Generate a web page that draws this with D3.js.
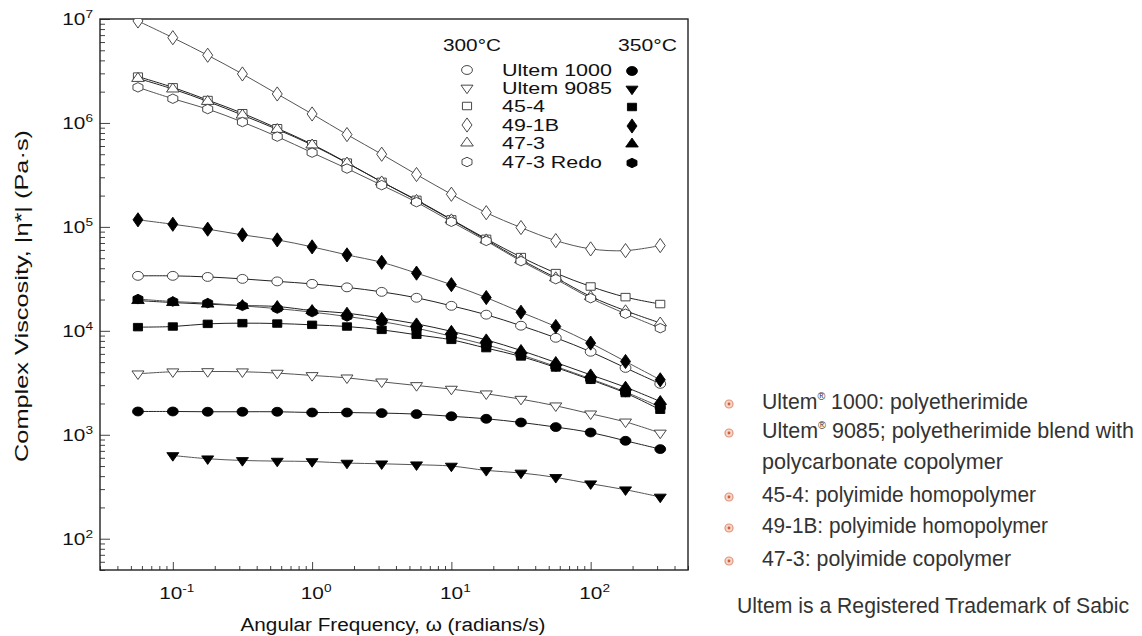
<!DOCTYPE html>
<html>
<head>
<meta charset="utf-8">
<script src="https://cdn.jsdelivr.net/npm/d3@7"></script>
<style>
  body { margin: 0; background: #fff; }
  svg { display: block; font-family: "Liberation Sans", Arial, sans-serif; }
</style>
</head>
<body>
<div id="chart"></div>
<script>
// angular frequency (rad/s), 4 points per decade
const freq = [0.0562, 0.1, 0.178, 0.316, 0.562, 1, 1.78, 3.16, 5.62, 10, 17.8, 31.6, 56.2, 100, 178, 316];

// complex viscosity (Pa·s) at 300 °C
const ultem1000_300 = [33800, 33800, 33000, 31600, 29900, 28300, 26200, 23700, 20800, 17400, 14300, 11200, 8570, 6290, 4400, 3090];
const ultem9085_300 = [3860, 4040, 4060, 4040, 3920, 3720, 3530, 3230, 2980, 2750, 2480, 2200, 1900, 1590, 1330, 1040];
const pi454_300     = [2.79e6, 2.20e6, 1.66e6, 1.24e6, 8.89e5, 6.24e5, 4.15e5, 2.71e5, 1.82e5, 1.18e5, 7.67e4, 5.12e4, 3.59e4, 2.67e4, 2.11e4, 1.81e4];
const pi491b_300    = [9.57e6, 6.61e6, 4.48e6, 2.96e6, 1.90e6, 1.22e6, 7.73e5, 5.00e5, 3.19e5, 2.06e5, 1.37e5, 9.85e4, 7.38e4, 6.14e4, 5.91e4, 6.61e4];
const pi473_300     = [2.68e6, 2.12e6, 1.61e6, 1.19e6, 8.66e5, 6.14e5, 4.12e5, 2.71e5, 1.80e5, 1.17e5, 7.50e4, 4.82e4, 3.24e4, 2.14e4, 1.56e4, 1.19e4];
const pi473redo_300 = [2.20e6, 1.71e6, 1.36e6, 1.02e6, 7.39e5, 5.18e5, 3.64e5, 2.52e5, 1.73e5, 1.12e5, 7.33e4, 4.68e4, 3.14e4, 2.06e4, 1.46e4, 1.06e4];

// complex viscosity (Pa·s) at 350 °C
const ultem1000_350 = [1675, 1675, 1665, 1665, 1665, 1637, 1637, 1617, 1581, 1506, 1425, 1313, 1186, 1052, 875, 728];
const ultem9085_350 = [null, 632, 588, 566, 558, 553, 534, 526, 515, 500, 454, 429, 389, 338, 296, 252];
const pi454_350     = [10850, 11000, 11670, 11850, 11750, 11420, 11000, 10220, 9160, 8190, 6820, 5670, 4440, 3380, 2520, 1740];
const pi491b_350    = [1.17e5, 1.06e5, 9.51e4, 8.38e4, 7.50e4, 6.42e4, 5.38e4, 4.56e4, 3.59e4, 2.78e4, 2.09e4, 1.51e4, 1.10e4, 7620, 5070, 3380];
const pi473_350     = [19550, 18700, 18060, 17500, 17130, 15670, 14790, 13250, 11670, 9890, 8190, 6470, 4960, 3770, 2870, 2090];
const pi473redo_350 = [20200, 19140, 18470, 17380, 16360, 15130, 13740, 12290, 10610, 8860, 7330, 5870, 4540, 3450, 2580, 1850];

const materials = ['Ultem 1000', 'Ultem 9085', '45-4', '49-1B', '47-3', '47-3 Redo'];
const tempHeaders = ['300°C', '350°C'];
const xMajor = [0.1, 1, 10, 100];
const yMajor = [100, 1e3, 1e4, 1e5, 1e6, 1e7];

const notes = [
  ['Ultem', '®', ' 1000: polyetherimide'],
  ['Ultem', '®', ' 9085; polyetherimide blend with'],
  ['polycarbonate copolymer'],
  ['45-4: polyimide homopolymer'],
  ['49-1B: polyimide homopolymer'],
  ['47-3: polyimide copolymer']
];
const footnote = 'Ultem is a Registered Trademark of Sabic';

const W = 1142, H = 636;
const L = 100, R = 688, T = 19, B = 570;

const svg = d3.select('#chart').append('svg')
  .attr('width', W).attr('height', H);

const x = d3.scaleLog().domain([0.03, 500]).range([L, R]);
const y = d3.scaleLog().domain([50, 1e7]).range([B, T]);

// hexagon symbol, pointy top
const symbolHexagon = {
  draw(ctx, size) {
    const r = Math.sqrt(2 * size / (3 * Math.sqrt(3)));
    for (let i = 0; i < 6; i++) {
      const a = -Math.PI / 2 + i * Math.PI / 3;
      i ? ctx.lineTo(r * Math.cos(a), r * Math.sin(a)) : ctx.moveTo(r * Math.cos(a), r * Math.sin(a));
    }
    ctx.closePath();
  }
};
const symbols = {
  circle:  { type: d3.symbolCircle,   size: 62, rot: 0 },
  tdown:   { type: d3.symbolTriangle, size: 42, rot: 180 },
  square:  { type: d3.symbolSquare,   size: 56, rot: 0 },
  diamond: { type: d3.symbolDiamond,  size: 58, rot: 0 },
  tup:     { type: d3.symbolTriangle, size: 46, rot: 0 },
  hex:     { type: symbolHexagon,     size: 58, rot: 0 }
};
const symbolKeys = ['circle', 'tdown', 'square', 'diamond', 'tup', 'hex'];

const series = [
  { values: ultem1000_300, sym: 'circle',  filled: false },
  { values: ultem9085_300, sym: 'tdown',   filled: false },
  { values: pi454_300,     sym: 'square',  filled: false },
  { values: pi491b_300,    sym: 'diamond', filled: false },
  { values: pi473_300,     sym: 'tup',     filled: false },
  { values: pi473redo_300, sym: 'hex',     filled: false },
  { values: ultem1000_350, sym: 'circle',  filled: true },
  { values: ultem9085_350, sym: 'tdown',   filled: true },
  { values: pi454_350,     sym: 'square',  filled: true },
  { values: pi491b_350,    sym: 'diamond', filled: true },
  { values: pi473_350,     sym: 'tup',     filled: true },
  { values: pi473redo_350, sym: 'hex',     filled: true }
];

function drawMarker(g, cx, cy, key, filled) {
  const s = symbols[key];
  g.append('path')
    .attr('d', d3.symbol().type(s.type).size(s.size)())
    .attr('transform', `translate(${cx},${cy}) scale(1.22,1) rotate(${s.rot})`)
    .attr('fill', filled ? '#000' : '#fff')
    .attr('stroke', filled ? '#000' : '#333')
    .attr('stroke-width', 0.9)
    .attr('vector-effect', 'non-scaling-stroke');
}

// ---- axes ticks (inside) ----
const axes = svg.append('g');
const xMinor = [];
for (let d = 0.01; d <= 100; d *= 10)
  for (let k = 2; k <= 9; k++) { const v = k * d; if (v >= 0.03 && v <= 500) xMinor.push(v); }
const yMinor = [];
for (let d = 10; d <= 1e6; d *= 10)
  for (let k = 2; k <= 9; k++) { const v = k * d; if (v >= 50 && v <= 1e7) yMinor.push(v); }

axes.append('g').attr('transform', `translate(0,${B})`)
  .call(d3.axisBottom(x).tickValues(xMinor).tickSize(-4).tickFormat(''));
axes.append('g').attr('transform', `translate(0,${B})`)
  .call(d3.axisBottom(x).tickValues(xMajor).tickSize(-8).tickFormat(''));
axes.append('g').attr('transform', `translate(${L},0)`)
  .call(d3.axisLeft(y).tickValues(yMinor).tickSize(-5).tickFormat(''));
axes.append('g').attr('transform', `translate(${L},0)`)
  .call(d3.axisLeft(y).tickValues(yMajor).tickSize(-10).tickFormat(''));
axes.selectAll('.domain').remove();
axes.selectAll('.tick line').attr('stroke', '#444').attr('stroke-width', 1);

// frame
svg.append('rect')
  .attr('x', L).attr('y', T).attr('width', R - L).attr('height', B - T)
  .attr('fill', 'none').attr('stroke', '#222').attr('stroke-width', 1.4);

// power-of-ten tick labels
function powLabel(px, py, exp, anchor) {
  const t = svg.append('text')
    .attr('transform', `translate(${px},${py}) scale(1.3,1)`)
    .attr('text-anchor', anchor).attr('font-size', 16).attr('fill', '#111');
  t.append('tspan').text('10');
  t.append('tspan').attr('dy', -7).attr('font-size', 10.5).text(exp);
}
yMajor.forEach(v => powLabel(93, y(v) + 6, Math.round(Math.log10(v)), 'end'));
xMajor.forEach(v => powLabel(x(v) + 4, 599, Math.round(Math.log10(v)), 'middle'));

// axis titles
svg.append('text')
  .attr('x', 393).attr('y', 631).attr('text-anchor', 'middle')
  .attr('font-size', 18).attr('fill', '#111')
  .attr('textLength', 305).attr('lengthAdjust', 'spacingAndGlyphs')
  .text('Angular Frequency, ω (radians/s)');
svg.append('text')
  .attr('transform', 'translate(28,296) rotate(-90)').attr('text-anchor', 'middle')
  .attr('font-size', 18).attr('fill', '#111')
  .attr('textLength', 332).attr('lengthAdjust', 'spacingAndGlyphs')
  .text('Complex Viscosity, |η*| (Pa·s)');

// ---- data ----
svg.append('clipPath').attr('id', 'plot-clip')
  .append('rect').attr('x', L).attr('y', T).attr('width', R - L).attr('height', B - T);

const plot = svg.append('g').attr('clip-path', 'url(#plot-clip)');
const line = d3.line()
  .defined(d => d.v != null)
  .x(d => x(d.f)).y(d => y(d.v))
  .curve(d3.curveCatmullRom.alpha(0.5));

series.forEach((s, i) => {
  const pts = freq.map((f, j) => ({ f, v: s.values[j] }));
  plot.append('path')
    .datum(pts)
    .attr('d', line)
    .attr('fill', 'none')
    .attr('stroke', i % 2 ? '#555' : '#222')
    .attr('stroke-width', 1);
});
series.forEach(s => {
  freq.forEach((f, j) => {
    const v = s.values[j];
    if (v == null) return;
    drawMarker(plot, x(f), y(v), s.sym, s.filled);
  });
});

// ---- legend ----
const legendRows = [70, 88, 106, 125, 143, 162];
const legendWidths = [110, 110, 43, 57, 43, 100];
const lg = svg.append('g').attr('font-size', 17).attr('fill', '#111');
lg.append('text').attr('x', 443).attr('y', 51)
  .attr('textLength', 58).attr('lengthAdjust', 'spacingAndGlyphs').text(tempHeaders[0]);
lg.append('text').attr('x', 618).attr('y', 51)
  .attr('textLength', 59).attr('lengthAdjust', 'spacingAndGlyphs').text(tempHeaders[1]);
materials.forEach((m, i) => {
  const ry = legendRows[i];
  drawMarker(lg, 467, ry, symbolKeys[i], false);
  drawMarker(lg, 632, ry + 1, symbolKeys[i], true);
  lg.append('text').attr('x', 502).attr('y', ry + 6)
    .attr('textLength', legendWidths[i]).attr('lengthAdjust', 'spacingAndGlyphs')
    .text(m);
});

// ---- notes on the right ----
const noteRows = [401, 430, 461, 494, 525, 558];
const noteWidths = [266, 372, 241, 274, 286, 249];
const nf = svg.append('g')
  .attr('font-family', '"Liberation Sans Narrow", "Arial Narrow", "Liberation Sans", Arial, sans-serif')
  .attr('font-size', 22).attr('fill', '#333');
notes.forEach((parts, i) => {
  const ny = noteRows[i];
  const t = nf.append('text').attr('x', 762).attr('y', ny + 8)
    .attr('textLength', noteWidths[i]).attr('lengthAdjust', 'spacingAndGlyphs');
  t.append('tspan').text(parts[0]);
  if (parts.length > 1) {
    t.append('tspan').attr('dy', -9).attr('font-size', 11).text(parts[1]);
    t.append('tspan').attr('dy', 9).text(parts[2]);
  }
  if (i !== 2) {
    nf.append('circle').attr('cx', 729).attr('cy', ny + 3).attr('r', 4)
      .attr('fill', '#f6d6c8').attr('stroke', '#e2957a').attr('stroke-width', 1.2);
    nf.append('circle').attr('cx', 729).attr('cy', ny + 3).attr('r', 1.4).attr('fill', '#c9603f');
  }
});
nf.append('text').attr('x', 737).attr('y', 613)
  .attr('font-family', '"Liberation Sans", Arial, sans-serif')
  .attr('font-size', 21.2)
  .text(footnote);
</script>
</body>
</html>
